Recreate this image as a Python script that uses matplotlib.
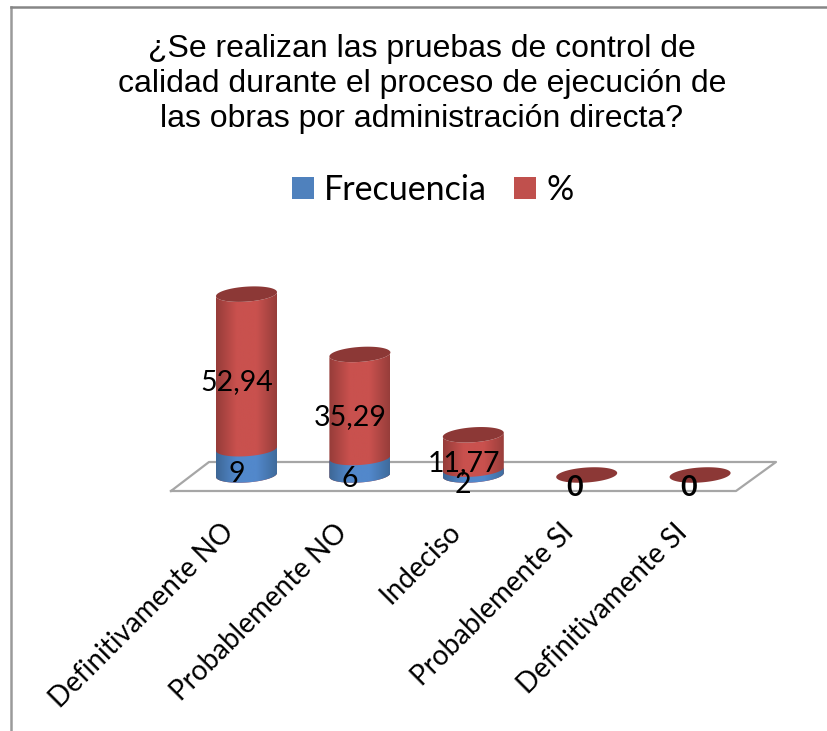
import numpy as np
import matplotlib
matplotlib.use('Agg')
import matplotlib.pyplot as plt
from matplotlib.colors import LinearSegmentedColormap
from matplotlib.patches import Patch, Polygon

categories = ['Definitivamente NO', 'Probablemente NO', 'Indeciso', 'Probablemente SI', 'Definitivamente SI']
frecuencia = [9, 6, 2, 0, 0]
porcentaje = [52.94, 35.29, 11.77, 0, 0]
frecuencia_labels = ['9', '6', '2', None, None]
porcentaje_labels = ['52,94', '35,29', '11,77', '0', '0']
title = '¿Se realizan las pruebas de control de\ncalidad durante el proceso de ejecución de\nlas obras por administración directa?'

W, H = 828, 731
px_x = 113.4   # pixels per category
px_y = 2.92    # pixels per value unit
x0_px, y0_px = 246.5, 475

fig = plt.figure(figsize=(W / 100, H / 100), dpi=100, facecolor='white')
ax = fig.add_axes([0, 0, 1, 1])
ax.axis('off')

blue_cm = LinearSegmentedColormap.from_list('b', ['#3d6796', '#5288cb', '#5288cb', '#3f6b9c'])
red_cm = LinearSegmentedColormap.from_list('r', ['#963c39', '#c9514e', '#c9514e', '#973d3a'])
grad = np.linspace(0, 1, 128).reshape(1, -1)
A, B, SHEAR = 30.5 / px_x, 7.5 / px_y, 2.0 / px_y


def arc(x, y, t):
    return np.column_stack([x + A * np.cos(t), y + B * np.sin(t) + SHEAR * np.cos(t)])


def body(x, y1, y2, cmap, z):
    front = np.linspace(np.pi, 2 * np.pi, 60)
    pts = np.vstack([arc(x, y1, front), arc(x, y2, front[::-1])])
    poly = Polygon(pts, closed=True, fc='none', ec='none', transform=ax.transData)
    ax.add_patch(poly)
    im = ax.imshow(grad, cmap=cmap, extent=[x - A, x + A, y1 - 2 * B, y2 + 2 * B], aspect='auto', zorder=z)
    im.set_clip_path(poly)


# floor and outer frame, in figure pixels
floor_x = np.array([171, 736, 776, 209, 171]) / W
floor_y = 1 - np.array([491, 491, 462, 462, 491]) / H
fig.add_artist(plt.Line2D(floor_x, floor_y, color='#a6a6a6', lw=1.6, zorder=0))
fig.add_artist(plt.Line2D(np.array([11.5, 11.5]) / W, 1 - np.array([H, 6.5]) / H, color='#9a9a9a', lw=1.8))
fig.add_artist(plt.Line2D(np.array([11.5, W]) / W, 1 - np.array([6.5, 6.5]) / H, color='#868686', lw=1.8))

for i in range(len(categories)):
    f, p = frecuencia[i], porcentaje[i]
    total = f + p
    if total > 0:
        body(i, 0, total, red_cm, 2)
        body(i, 0, f, blue_cm, 3)
    t = np.linspace(0, 2 * np.pi, 100)
    ax.add_patch(Polygon(arc(i, total, t), closed=True, fc='#8c3836', ec='none', zorder=4))

    # labels sit a little left of and below the middle of each segment
    if frecuencia_labels[i]:
        ax.text(i - 0.09, f / 2 - 4.3, frecuencia_labels[i], ha='center', va='center',
                fontsize=20.5, family='Lato', color='black', zorder=6)
    # the two zero labels print on top of each other in the original, so they read as heavier
    weight = 'bold' if total == 0 else 'normal'
    dy = -4.3 if total == 0 else -3.7
    xoff = -0.105 if total == 0 else -0.085
    ax.text(i + xoff, f + p / 2 + dy, porcentaje_labels[i], ha='center', va='center',
            fontsize=20.5, family='Lato', color='black', fontweight=weight, zorder=6)
    ax.text(i - 0.15, -18.2, categories[i], rotation=45, rotation_mode='anchor', ha='right', va='center',
            fontsize=20, family='Lato', color='black', zorder=6)

ax.set_xlim(-x0_px / px_x, (W - x0_px) / px_x)
ax.set_ylim((y0_px - H) / px_y, y0_px / px_y)

fig.text(422 / W, 1 - 84 / H, title, ha='center', va='center', fontsize=23, family='Liberation Sans',
         color='black', linespacing=1.2)

handles = [Patch(fc='#4f81bd', ec='none', label='Frecuencia'), Patch(fc='#c0504d', ec='none', label='%')]
fig.legend(handles=handles, ncol=2, loc='center', bbox_to_anchor=(433 / W, 1 - 190 / H), frameon=False,
           prop={'family': 'Lato', 'size': 24.5}, handlelength=0.64, handleheight=0.64,
           handletextpad=0.3, columnspacing=0.8)

fig.savefig('out.png', dpi=100)
